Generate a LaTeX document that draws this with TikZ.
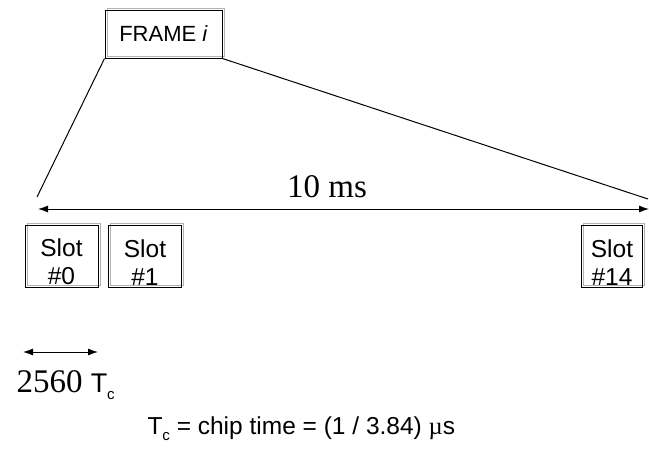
\documentclass[tikz,border=0pt]{standalone}
\usepackage{fontspec}
\setmainfont{Liberation Serif}
\setsansfont{Liberation Sans}
\usetikzlibrary{arrows.meta,shadows}
\tikzset{>={Latex[length=10,width=7]}}
\tikzset{
  framebox/.style={draw, inner sep=0, minimum width=117, minimum height=48,
    font=\sffamily\fontsize{22}{26}\selectfont,
    copy shadow={shadow xshift=2, shadow yshift=-2, draw=gray!60, fill=none}},
  slotbox/.style={draw, inner sep=0, minimum width=73, minimum height=62, align=center,
    font=\sffamily\fontsize{24.5}{28}\selectfont,
    copy shadow={shadow xshift=2, shadow yshift=-2, draw=gray!60, fill=none}}
}
\newcommand{\chipT}{T\raisebox{-0.28em}{\fontsize{15}{18}\selectfont c}}
\newcommand{\slotlabel}[1]{\rule{0pt}{30pt}Slot\\\##1}

\begin{document}
\begin{tikzpicture}[x=1pt, y=-1pt, line width=1]
	\useasboundingbox (0,0) rectangle (649,461);
	
	% Frame
	\node[framebox] (frame) at (163.5,34) {FRAME \textit{i}};
	
	% Slots
	\node[slotbox] (slot0) at (61.5,256) {\slotlabel{0}};
	\node[slotbox] (slot1) at (145,256) {\slotlabel{1}};
	\node[slotbox, minimum width=61] (slot14) at (612,256) {\slotlabel{14}};
	
	% Zoom lines
	\coordinate (zl) at (37,197);
	\coordinate (zr) at (648,199);
	\draw (frame.south west) -- (zl);
	\draw (frame.south east) -- (zr);
	
	% Frame length
	\coordinate (fl) at (38,209);
	\coordinate (fr) at (649,209);
	\draw[<->] (fl) -- (fr);
	\node[anchor=base, inner sep=0, font=\fontsize{33}{38}\selectfont] (ten) at (327,197) {10 ms};
	
	% Slot length
	\coordinate (sl) at (23,352);
	\coordinate (sr) at (98,352);
	\draw[<->] (sl) -- (sr);
	\node[anchor=base west, inner sep=0, font=\fontsize{33}{38}\selectfont] (chips) at (16,392)
		{2560 {\sffamily\fontsize{27}{30}\selectfont\chipT}};
	
	% Chip time
	\node[anchor=base west, inner sep=0, font=\sffamily\fontsize{24.5}{28}\selectfont] (chip) at (147,434)
		{\chipT{} = chip time = (1 / 3.84) {\rmfamily µ}s};
\end{tikzpicture}
\end{document}
